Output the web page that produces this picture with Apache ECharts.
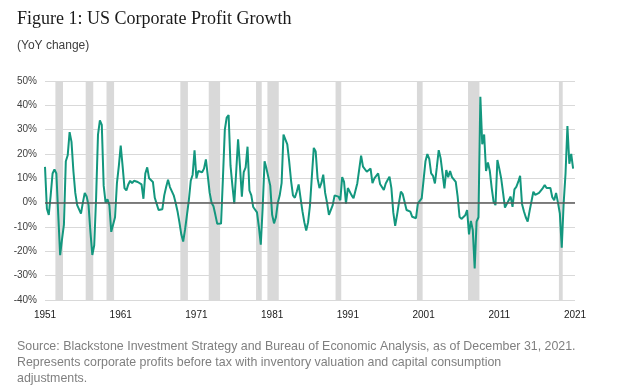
<!DOCTYPE html>
<html>
<head>
<meta charset="utf-8">
<script src="https://cdn.jsdelivr.net/npm/echarts@6/dist/echarts.min.js"></script>
<style>html,body{margin:0;padding:0;background:#fff;}#c{width:624px;height:392px;}</style>
</head>
<body>
<div id="c"></div>
<script>
// Quarterly YoY change (%), first point = Q1 1952 (quarter index 0)
const profitGrowth = [
14.7,-2.5,-5,3,12,13.7,12,-5,-21.6,-15,
-9,17,19.5,29,25,13,4,-1,-1.5,-4.5,
0,4,2.5,-1,-12,-21.5,-17.5,2,28,33.8,
32,7,0,1.4,-1,-12,-9,-6,8,15,
23.5,15,6,5,7.5,9,8,9,9.5,8.5,
9,7.5,1.6,12,14.5,10,10.5,8.5,2,-0.5,
-3,-3.2,-2.7,3,6.4,9.4,6.4,5.8,3,0,
-3.5,-8,-13,-16,-11,-5,1,9,11.5,21.5,
10,13,12.5,12.5,14,17.8,11,4,0,-1.5,
-5,-8.7,-8.8,-8.6,10,30,35,36,15.3,7,
-0.4,12.6,26,15,2.5,12.6,14.5,23,5,3,
-1.8,-2.6,-4,-10,-17.3,-2,17,14,10.5,7,
-5,-8.5,-6,0,3,8,28,27.5,24,17,
9,3,2,4.5,7.5,2,-3.5,-8,-11.4,-8,
-1,11,22.5,21,10,6,8,11.5,4,0,
-5,-5,-1,3,2.5,2.5,1,10.5,8.5,-0.4,
6,6.4,3,1.8,1,8,8,19.3,14.8,15.5,
12.7,13.4,14,8,10,10.4,12,7.7,7.3,5.2,
7.9,9.3,10.7,6,-4,-9.5,-5,0,4.5,3.5,
3.8,-3,-3,-3.7,-5.8,-6.2,-6.4,-0.3,-1,1.8,
9.3,17,20,18,12,11,7.9,14.5,21.6,18.3,
17.5,5.9,13.4,10.5,13,10.5,11,8.5,2.5,-5.8,
-6.7,-6.6,-5.2,-3,-13,-7.5,-11.2,-27,-7.8,-6,
43.5,24,28,13,16.5,13,6,0.3,-1,17.5,
14,10,4,-2,-0.5,1,2.5,-1.7,5.5,6.5,
8.5,11,-0.5,-3.5,-6,-7.8,-3.5,-3,4.5,3.2,
3.7,4,4.7,6,7.2,6,6.8,6,2.2,1,
4,0,-4.5,-18.5,-0.3,12,31.5,16,20,14
];
// Axis tick labels, one every 40 quarters
const tickLabels = ['1951','1961','1971','1981','1991','2001','2011','2021'];
// Recession periods (first and last quarter index)
const recessionStart = [6,22,33,72,87,112,118,154,197,224,272];
const recessionEnd   = [9,25,36,75,92,114,123,156,199,229,273];
const footnote = [
  'Source: Blackstone Investment Strategy and Bureau of Economic Analysis, as of December 31, 2021.',
  'Represents corporate profits before tax with inventory valuation and capital consumption',
  'adjustments.'
];

const chart = echarts.init(document.getElementById('c'), null, {renderer:'canvas'});
const lineData = profitGrowth.map((v,i)=>[i,v]);
const areas = recessionStart.map((s,k)=>[{xAxis:s-0.5},{xAxis:recessionEnd[k]+0.5}]);

chart.setOption({
  animation:false,
  backgroundColor:'#fff',
  grid:{left:45,right:49,top:81,bottom:92,containLabel:false},
  xAxis:{
    type:'value',min:0,max:280,interval:40,
    axisLine:{show:false},axisTick:{show:false},splitLine:{show:false},
    axisLabel:{formatter:v=>tickLabels[Math.round(v/40)]||'',color:'#1a1a1a',fontSize:10,
      fontFamily:'Liberation Sans, Arial, sans-serif',margin:10}
  },
  yAxis:{
    type:'value',min:-40,max:50,interval:10,
    axisLine:{show:false},axisTick:{show:false},
    splitLine:{lineStyle:{color:'#d9d9d9',width:1}},
    axisLabel:{formatter:'{value}%',color:'#404040',fontSize:10,
      fontFamily:'Liberation Sans, Arial, sans-serif',margin:8}
  },
  series:[{
    type:'line',data:lineData,symbol:'none',
    lineStyle:{color:'#13977e',width:2},
    itemStyle:{color:'#13977e'},
    markArea:{silent:true,itemStyle:{color:'#d9d9d9'},data:areas},
    markLine:{silent:true,symbol:'none',label:{show:false},
      lineStyle:{color:'#595959',width:1.5,type:'solid'},data:[{yAxis:0}]}
  }],
  graphic:[
    {type:'text',left:17,top:10,style:{text:'Figure 1: US Corporate Profit Growth',
      font:'18px "Liberation Serif", serif',fill:'#1a1a1a'}},
    {type:'text',left:17,top:40,style:{text:'(YoY change)',
      font:'12px "Liberation Sans", sans-serif',fill:'#404040'}},
    {type:'text',left:17,top:339,style:{text:footnote.join('\n'),lineHeight:16,
      font:'12.4px "Liberation Sans", sans-serif',fill:'#7f7f7f'}}
  ]
});
</script>
</body>
</html>
